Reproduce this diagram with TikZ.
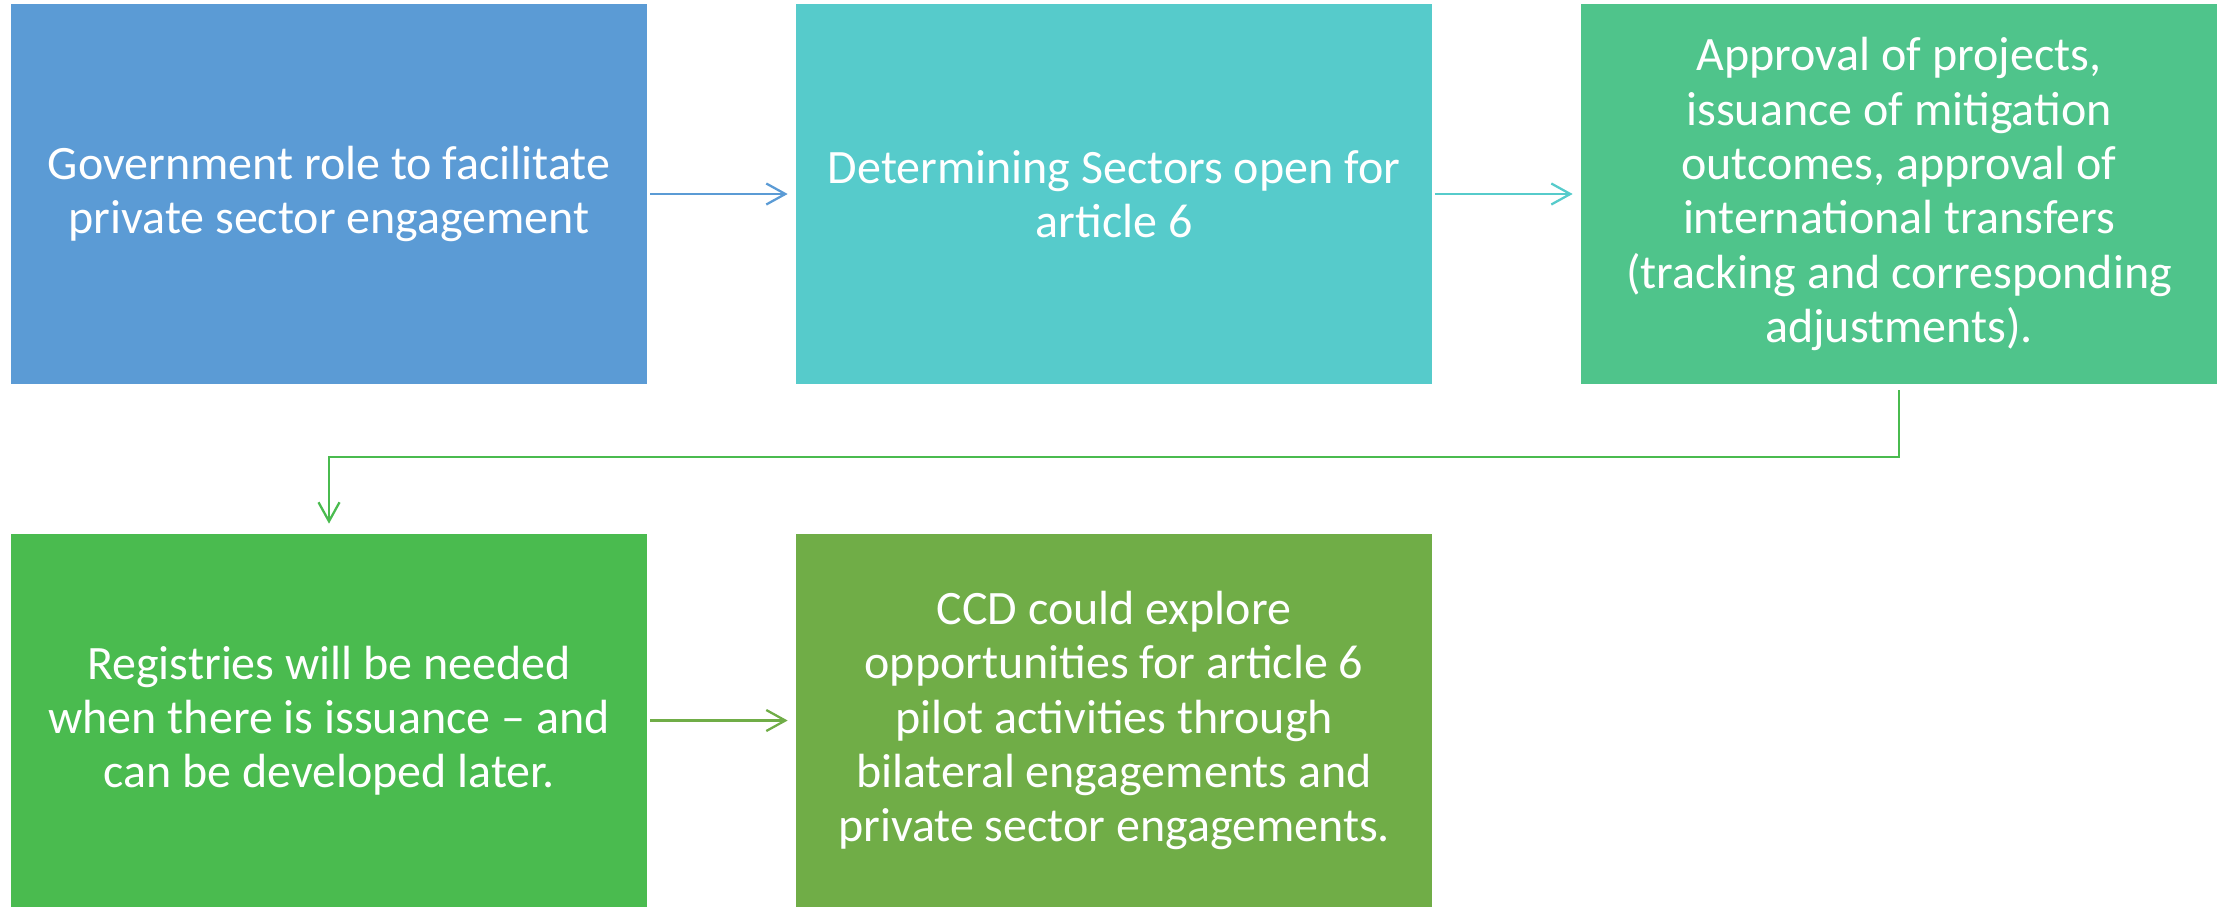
\documentclass[tikz,border=0pt]{standalone}
\usepackage{fontspec}
\setmainfont{Carlito}
\usetikzlibrary{arrows.meta}

\definecolor{govblue}{HTML}{5B9BD5}
\definecolor{sectorteal}{HTML}{56CBCB}
\definecolor{approvalgreen}{HTML}{4FC48B}
\definecolor{registrygreen}{HTML}{4ABB4F}
\definecolor{ccdolive}{HTML}{70AD47}

\begin{document}
\begin{tikzpicture}
	\tikzset{
		stage/.style={inner sep=0pt, align=center, text=white,
			font=\fontsize{27.3}{30.9}\selectfont, minimum width=12.72cm},
		link/.style={line width=1.3pt, -{Straight Barb[length=0.38cm,width=0.42cm,line width=1.3pt]},
			shorten <=0.06cm, shorten >=0.16cm}
	}
	\useasboundingbox (0,0) rectangle (44.42,-18.18);
	% top row
	\node[stage, fill=govblue, minimum height=7.6cm] (gov) at (6.58,-3.88)
		{Government role to facilitate\\private sector engagement};
	\node[stage, fill=sectorteal, minimum height=7.6cm] (sectors) at (22.28,-3.88)
		{Determining Sectors open for\\article 6};
	\node[stage, fill=approvalgreen, minimum height=7.6cm] (approval) at (37.98,-3.88)
		{Approval of projects,\\issuance of mitigation\\outcomes, approval of\\international transfers\\(tracking and corresponding\\adjustments).};
	% bottom row
	\node[stage, fill=registrygreen, minimum height=7.46cm] (registry) at (6.58,-14.41)
		{Registries will be needed\\when there is issuance -- and\\can be developed later.};
	\node[stage, fill=ccdolive, minimum height=7.46cm] (ccd) at (22.28,-14.41)
		{CCD could explore\\opportunities for article 6\\pilot activities through\\bilateral engagements and\\private sector engagements.};
	\coordinate (turn) at (37.98,-9.14);
	\draw[link, govblue] (gov) -- (sectors);
	\draw[link, sectorteal] (sectors) -- (approval);
	\draw[link, registrygreen, shorten <=0.12cm, shorten >=0.2cm] (approval) -- (turn) -| (registry);
	\draw[link, ccdolive] (registry) -- (ccd);
\end{tikzpicture}
\end{document}
